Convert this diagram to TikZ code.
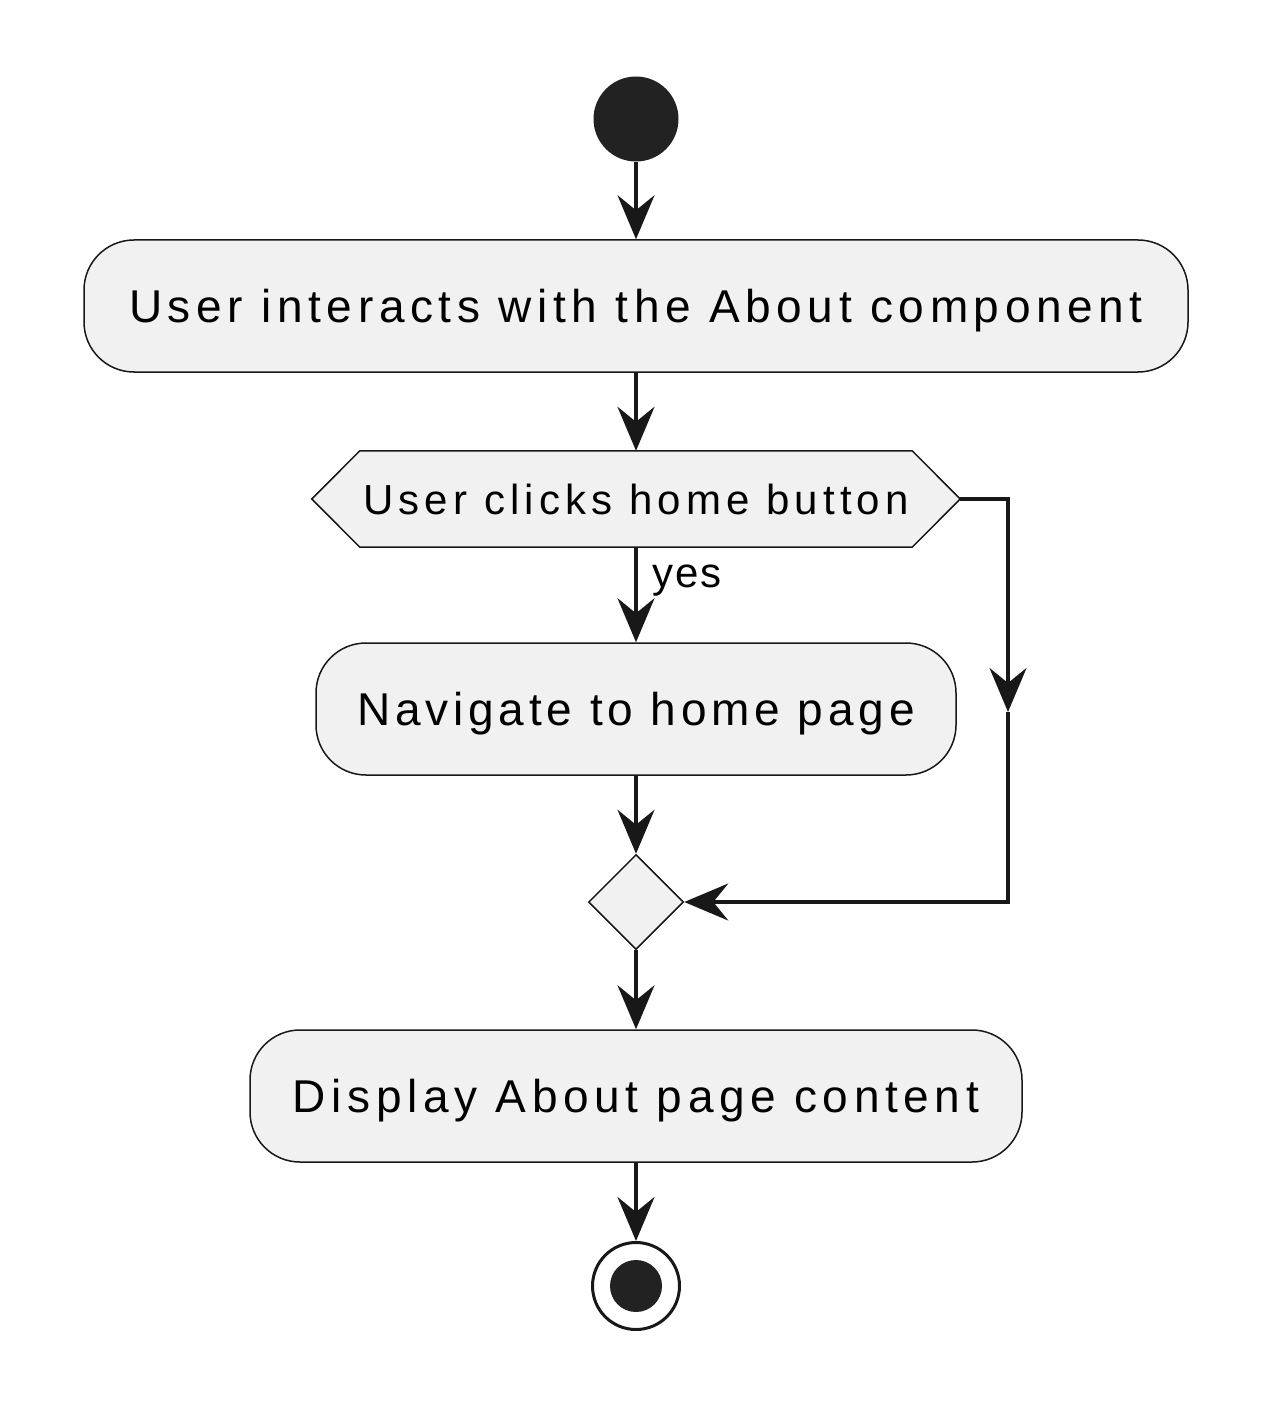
\documentclass[tikz,border=0pt]{standalone}
\usepackage{fontspec}
\setmainfont{Liberation Sans}
\newfontfamily\boxfont[LetterSpace=12.2]{Liberation Sans}
\newfontfamily\narrowboxfont[LetterSpace=10.5]{Liberation Sans}
\newfontfamily\guardfont[LetterSpace=4]{Liberation Sans}
\usetikzlibrary{arrows.meta,shapes.geometric}
\definecolor{umlfill}{HTML}{F1F1F1}
\definecolor{umlline}{HTML}{181818}
\definecolor{umldot}{HTML}{222222}
\pgfdeclarelayer{background}
\pgfsetlayers{background,main}
\begin{document}
\begin{tikzpicture}[x=1pt,y=-1pt,
  action/.style={draw=umlline, fill=umlfill, line width=1.5pt,
    rounded corners=50pt, minimum height=132pt, inner sep=0pt,
    font=\boxfont\fontsize{46}{55}\selectfont, text height=33pt, text depth=0pt},
  condition/.style={inner sep=0pt, minimum width=648pt, minimum height=96pt,
    font=\boxfont\fontsize{42}{50}\selectfont, text height=30pt, text depth=0pt},
  merger/.style={diamond, aspect=1, draw=umlline, fill=umlfill, line width=1.5pt,
    minimum width=95pt, minimum height=95pt, inner sep=0pt},
  flow/.style={draw=umlline, line width=3.2pt, miter limit=10,
    -{Stealth[length=44pt,width=37pt,inset=15pt]}},
  guard/.style={font=\guardfont\fontsize{42}{50}\selectfont, anchor=base west, inner sep=0pt}]
\useasboundingbox (0,0) rectangle (1272,1412);

% initial node
\node[circle, fill=umldot, minimum size=85pt, inner sep=0pt] (start) at (636,119) {};

% activities and decision
\node[action, minimum width=1104pt] (a1) at (636,306) {User interacts with the About component};
\node[condition] (dec) at (636,499) {User clicks home button};
\begin{pgfonlayer}{background}
  \draw[draw=umlline, fill=umlfill, line width=1.5pt]
    (dec.west) -- ([xshift=48pt]dec.north west) -- ([xshift=-48pt]dec.north east)
    -- (dec.east) -- ([xshift=-48pt]dec.south east) -- ([xshift=48pt]dec.south west) -- cycle;
\end{pgfonlayer}
\node[action, minimum width=640pt, font=\narrowboxfont\fontsize{46}{55}\selectfont] (a2) at (636,709) {Navigate to home page};
\node[merger] (merge) at (636,902) {};
\node[action, minimum width=772pt] (a3) at (636,1096) {Display About page content};

% final node
\node[circle, draw=umlline, line width=3pt, fill=white, minimum size=87pt, inner sep=0pt] (stop) at (636,1286) {};
\node[circle, fill=umldot, minimum size=52pt, inner sep=0pt] (stopdot) at (stop.center) {};

% bypass route on the right
\coordinate (r1) at (1008,499);
\coordinate (rmid) at (1008,712);
\coordinate (r2) at (1008,902);

% connectors
\draw[flow] (start) -- (a1.north);
\draw[flow] (a1.south) -- (dec.north);
\draw[flow] (dec.south) -- (a2.north) node[guard, pos=0.42, xshift=15pt] {yes};
\draw[flow] (dec.east) -- (r1) -- (rmid);
\draw[flow] (rmid) -- (r2) -- (merge.east);
\draw[flow] (a2.south) -- (merge.north);
\draw[flow] (merge.south) -- (a3.north);
\draw[flow] (a3.south) -- (stop.north);
\end{tikzpicture}
\end{document}
